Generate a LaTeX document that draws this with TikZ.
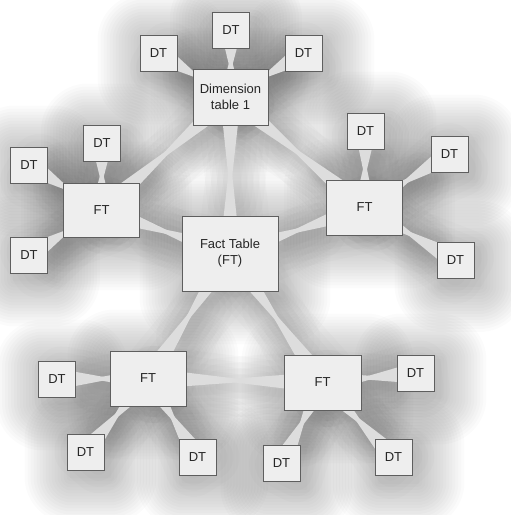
\documentclass[tikz,border=0pt]{standalone}
\usepackage{fontspec}
\setmainfont{Liberation Sans}
\usetikzlibrary{calc}
\definecolor{Ink}{HTML}{262626}
\definecolor{Frame}{HTML}{5E5E5E}
\definecolor{Card}{HTML}{EEEEEE}
\definecolor{Ray}{HTML}{DDDDDD}
\pgfdeclarelayer{haze}
\pgfdeclarelayer{rays}
\pgfsetlayers{haze,rays,main}
\tikzset{
  tablebox/.style={
    draw=Frame, line width=0.9pt, fill=Card, text=Ink, inner sep=0pt,
    font=\fontsize{13}{16}\selectfont, align=center
  },
  dimtab/.style={tablebox, minimum width=37pt, minimum height=36pt},
  facttab/.style={tablebox, minimum width=76pt, minimum height=55pt},
  hub/.style={tablebox, minimum width=96pt, minimum height=75pt},
  ray/.style={fill=Ray, draw=none},
  hazefill/.style={fill=black, fill opacity=0.016, draw=none},
  hazeline/.style={draw=black, draw opacity=0.014, line join=round,
    transform canvas={shift={(5pt,-6pt)}}}
}
% spike from #2 pointing at #3
\newcommand\ray[3][]{\fill[ray,#1] ($(#2)!10.5pt!90:(#3)$) -- ($(#2)!0.62!(#3)$)
  -- ($(#2)!10.5pt!-90:(#3)$) -- cycle;}
\newcommand\hazebox[1]{%
  \foreach \r in {2,5,...,47}{
    \fill[hazefill,rounded corners=\r pt] ($(#1.north west)+(-\r+5,-\r+6)$)
      rectangle ($(#1.south east)+(\r+5,\r+6)$);}}

\begin{document}
\begin{tikzpicture}[x=1pt,y=-1pt]
  \useasboundingbox (0,0) rectangle (511,515);
  % centre
  \node[hub] (fact) at (230,253.5) {Fact Table\\(FT)};
  \node[facttab,minimum width=75pt,minimum height=56pt] (dim) at (230.5,97) {Dimension\\table 1};
  \node[dimtab] (dt1) at (158.5,53) {DT};
  \node[dimtab] (dt2) at (231,30.5) {DT};
  \node[dimtab] (dt3) at (303.5,53) {DT};
  % left
  \node[facttab,minimum height=54pt] (lft) at (101.5,210) {FT};
  \node[dimtab] (dt4) at (102,143) {DT};
  \node[dimtab] (dt5) at (29,165) {DT};
  \node[dimtab] (dt6) at (29,255) {DT};
  % right
  \node[facttab] (rft) at (364.5,207.5) {FT};
  \node[dimtab] (dt7) at (365.5,131) {DT};
  \node[dimtab] (dt8) at (449.5,154) {DT};
  \node[dimtab] (dt9) at (455.5,260.5) {DT};
  % bottom left
  \node[facttab] (blft) at (148,378.5) {FT};
  \node[dimtab] (dt10) at (57,379) {DT};
  \node[dimtab] (dt11) at (85.5,452) {DT};
  \node[dimtab] (dt12) at (197.5,457) {DT};
  % bottom right
  \node[facttab,minimum width=77pt] (brft) at (322.5,382.5) {FT};
  \node[dimtab] (dt13) at (415.5,373) {DT};
  \node[dimtab] (dt14) at (281.5,463.5) {DT};
  \node[dimtab] (dt15) at (393.5,457.5) {DT};

  \def\links{fact/dim,fact/lft,fact/rft,fact/blft,fact/brft,
    dim/dt1,dim/dt2,dim/dt3,lft/dt4,lft/dt5,lft/dt6,
    rft/dt7,rft/dt8,rft/dt9,blft/dt10,blft/dt11,blft/dt12,
    brft/dt13,brft/dt14,brft/dt15,dim/lft,dim/rft,blft/brft}

  \begin{pgfonlayer}{rays}
    \foreach \a/\b in \links {\ray{\a}{\b}\ray{\b}{\a}}
  \end{pgfonlayer}

  \begin{pgfonlayer}{haze}
    \foreach \n in {fact,dim,lft,rft,blft,brft,dt1,dt2,dt3,dt4,dt5,
      dt6,dt7,dt8,dt9,dt10,dt11,dt12,dt13,dt14,dt15} {\hazebox{\n}}
    \foreach \a/\b in \links {
      \foreach \w in {8,20,...,56} {
        \ray[hazeline,line width=\w pt,fill=none]{\a}{\b}
        \ray[hazeline,line width=\w pt,fill=none]{\b}{\a}}}
  \end{pgfonlayer}
\end{tikzpicture}
\end{document}
